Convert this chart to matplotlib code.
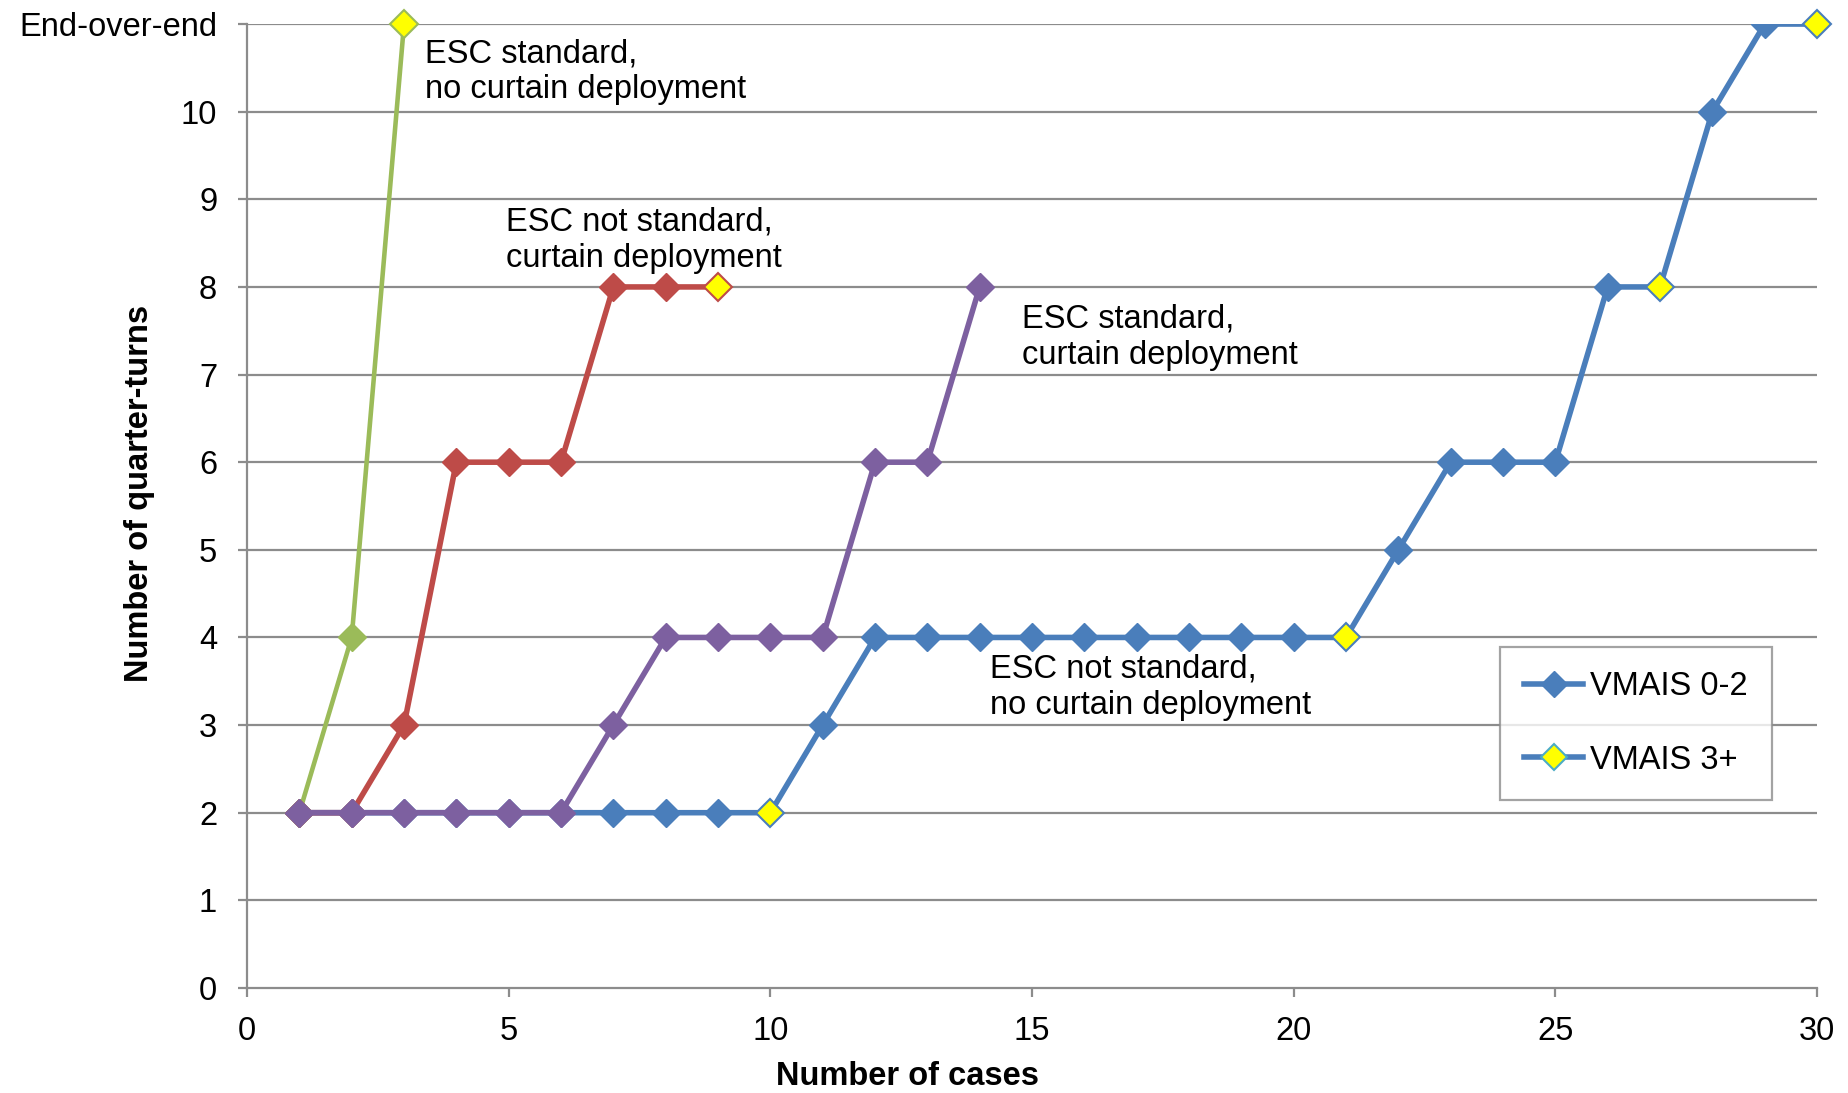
import matplotlib
matplotlib.use("Agg")
import matplotlib.pyplot as plt
from matplotlib.lines import Line2D

plt.rcParams['font.family'] = ['Liberation Sans', 'DejaVu Sans']

# Data
green_x = [1, 2, 3]
green_y = [2, 4, 11]
green_severe = [3]

red_x = [1, 2, 3, 4, 5, 6, 7, 8, 9]
red_y = [2, 2, 3, 6, 6, 6, 8, 8, 8]
red_severe = [9]

purple_x = [1, 2, 3, 4, 5, 6, 7, 8, 9, 10, 11, 12, 13, 14]
purple_y = [2, 2, 2, 2, 2, 2, 3, 4, 4, 4, 4, 6, 6, 8]
purple_severe = []

blue_x = list(range(1, 31))
blue_y = [2, 2, 2, 2, 2, 2, 2, 2, 2, 2, 3, 4, 4, 4, 4, 4, 4, 4, 4, 4,
          4, 5, 6, 6, 6, 8, 8, 10, 11, 11]
blue_severe = [10, 21, 27, 30]

ytick_labels = ['0', '1', '2', '3', '4', '5', '6', '7', '8', '9', '10', 'End-over-end']
xticks = [0, 5, 10, 15, 20, 25, 30]

annotations = [
    (3.40, 10.84, "ESC standard,\nno curtain deployment"),
    (4.94, 8.92, "ESC not standard,\ncurtain deployment"),
    (14.81, 7.81, "ESC standard,\ncurtain deployment"),
    (14.20, 3.82, "ESC not standard,\nno curtain deployment"),
]

BLUE = '#4A7EBB'
RED = '#BE4B48'
GREEN = '#9BBB59'
PURPLE = '#7D60A0'
YELLOW = '#FFFF00'
GRID = '#8C8C8C'
FS = 23.5

fig = plt.figure(figsize=(18.49, 10.93), dpi=100)
ax = fig.add_axes([0.1336, 0.0961, 0.9827 - 0.1336, 0.978 - 0.0961])

MS = 14
LW = 4.0


def draw(xs, ys, severe, color, z, lw):
    ax.plot(xs, ys, color=color, lw=lw, zorder=z, solid_capstyle='round')
    nx = [x for x, y in zip(xs, ys) if x not in severe]
    ny = [y for x, y in zip(xs, ys) if x not in severe]
    ax.plot(nx, ny, ls='none', marker='D', ms=MS, mfc=color, mec=color, zorder=z + 0.5)
    sx = [x for x, y in zip(xs, ys) if x in severe]
    sy = [y for x, y in zip(xs, ys) if x in severe]
    if sx:
        ax.plot(sx, sy, ls='none', marker='D', ms=MS, mfc=YELLOW, mec=color,
                mew=1.5, zorder=z + 0.5, clip_on=False)


draw(blue_x, blue_y, blue_severe, BLUE, 3, LW)
draw(green_x, green_y, green_severe, GREEN, 4, 3.3)
draw(red_x, red_y, red_severe, RED, 5, LW)
draw(purple_x, purple_y, purple_severe, PURPLE, 6, LW)

ax.set_xlim(0, 30)
ax.set_ylim(0, 11)
ax.set_xticks(xticks)
ax.set_xticklabels([str(t) for t in xticks])
ax.set_yticks(range(len(ytick_labels)))
ax.set_yticklabels(ytick_labels)

for y in range(1, 12):
    ax.axhline(y, color=GRID, lw=1.6, zorder=1)

for side in ['top', 'right']:
    ax.spines[side].set_visible(False)
for side in ['left', 'bottom']:
    ax.spines[side].set_color(GRID)
    ax.spines[side].set_linewidth(1.6)

ax.tick_params(axis='both', direction='out', length=6.5, width=1.6, color=GRID,
               labelsize=FS)
ax.tick_params(axis='y', pad=15)
ax.tick_params(axis='x', pad=14)

ax.set_xlabel('Number of cases', fontsize=FS, fontweight='bold')
ax.set_ylabel('Number of quarter-turns', fontsize=FS, fontweight='bold')
ax.xaxis.set_label_coords(0.421, -0.092)
ax.yaxis.set_label_coords(-0.0688, 0.5135)
ax.xaxis.label.set_va('center')
ax.yaxis.label.set_va('center')

for x, y, t in annotations:
    ax.text(x, y, t, fontsize=FS, ha='left', va='top', linespacing=1.22, zorder=10)

handles = [
    Line2D([0], [0], color=BLUE, lw=LW, marker='D', ms=MS - 1, mfc=BLUE, mec=BLUE),
    Line2D([0], [0], color=BLUE, lw=LW, marker='D', ms=MS - 1, mfc=YELLOW, mec='#4BACC6', mew=1.5),
]
leg = ax.legend(handles, ['VMAIS 0-2', 'VMAIS 3+'], loc='upper left',
                bbox_to_anchor=((1500 - 247) / (1817 - 247), 1 - (647 - 24) / (988 - 24)),
                fontsize=FS, frameon=True, fancybox=False, edgecolor=GRID,
                borderpad=0.75, labelspacing=1.3, handlelength=1.8, handletextpad=0.2,
                borderaxespad=0)
leg.get_frame().set_linewidth(1.6)
leg.set_zorder(20)

fig.savefig('out.png', dpi=100)
